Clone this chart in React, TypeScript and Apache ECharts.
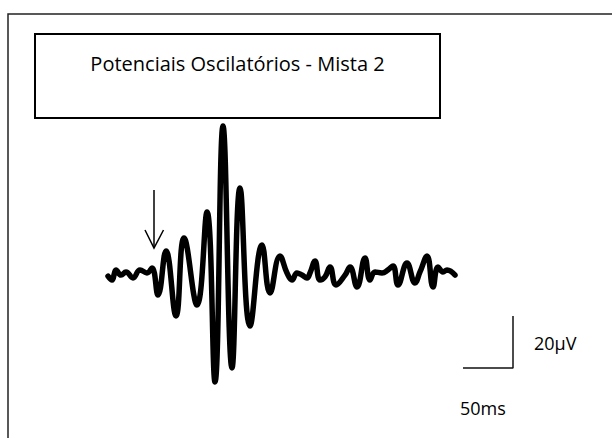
import React, { useEffect, useRef } from "react";
import * as echarts from "echarts";

// time (ms) from the start of the trace
const timeMs = [0, 4, 8, 13, 18, 25, 32, 39, 44, 50, 58, 68, 76, 89, 99, 107, 115, 124, 132, 142, 154, 162, 172, 179, 184, 189, 194, 199, 202, 207, 212, 217, 222, 228, 237, 242, 249, 257, 262, 267, 274, 280, 285, 290, 299, 307, 312, 319, 325, 330, 335, 339, 347];
// amplitude (µV)
const ampUV = [-1.2, -2.7, 1.2, -0.8, 0.4, -1.9, 1.2, 0, 1.9, -8.5, 8.5, -16.5, 13.5, -12.3, 23.5, -41.9, 56.5, -36.5, 32.7, -20.4, 10.8, -7.7, 6.5, 0, -2.7, 0, -0.8, -1.9, 0, 4.6, -2.7, -1.5, 2.3, -4.6, -0.8, 2.3, -5.4, 5.8, -2.7, 0.4, 0, 1.2, 2.7, -4.6, 3.8, -3.8, 0.4, 6.5, -5.4, 2.3, 0.4, 1.2, -0.8];

// calibration bar: 50 ms x 20 µV
const scaleBarTime = [355, 405, 405];
const scaleBarAmp = [-36.5, -36.5, -16.5];

const titleText = "Potenciais Oscilatórios - Mista 2";
const ampLabel = "20µV";
const timeLabel = "50ms";

export default function App() {
  const ref = useRef<HTMLDivElement>(null);
  useEffect(() => {
    if (!ref.current) return;
    const chart = echarts.init(ref.current, null, { renderer: "svg" });
    const font = "'Open Sans', 'Noto Sans', sans-serif";
    chart.setOption({
      animation: false,
      backgroundColor: "#ffffff",
      grid: { left: 108, top: 117, width: 420, height: 286 },
      xAxis: { type: "value", min: 0, max: 420, show: false },
      yAxis: { type: "value", min: -50, max: 60, show: false },
      series: [
        {
          type: "line",
          data: timeMs.map((t, i) => [t, ampUV[i]]),
          symbol: "none",
          smooth: 0.45,
          lineStyle: { color: "#000", width: 5.5, join: "round", cap: "round" },
          silent: true,
        },
        {
          type: "line",
          data: scaleBarTime.map((t, i) => [t, scaleBarAmp[i]]),
          symbol: "none",
          lineStyle: { color: "#111", width: 1.5 },
          silent: true,
        },
      ],
      graphic: [
        {
          type: "rect",
          shape: { x: 8, y: 14, width: 640, height: 460 },
          style: { fill: "none", stroke: "#222", lineWidth: 1.5 },
        },
        {
          type: "rect",
          shape: { x: 35, y: 34, width: 405, height: 84 },
          style: { fill: "#fff", stroke: "#000", lineWidth: 2 },
        },
        {
          type: "text",
          x: 237.5,
          y: 63,
          style: { text: titleText, font: `20px ${font}`, fill: "#000", align: "center", verticalAlign: "middle" },
        },
        {
          type: "line",
          shape: { x1: 154, y1: 190, x2: 154, y2: 247 },
          style: { stroke: "#000", lineWidth: 1.5 },
        },
        {
          type: "polyline",
          shape: { points: [[145, 230], [154, 248], [163.5, 230]] },
          style: { stroke: "#000", lineWidth: 1.5, fill: "none" },
        },
        {
          type: "text",
          x: 534,
          y: 343,
          style: { text: ampLabel, font: `18px ${font}`, fill: "#000", align: "left", verticalAlign: "middle" },
        },
        {
          type: "text",
          x: 460,
          y: 408,
          style: { text: timeLabel, font: `18px ${font}`, fill: "#000", align: "left", verticalAlign: "middle" },
        },
      ],
    });
    return () => chart.dispose();
  }, []);
  return <div ref={ref} style={{ position: "absolute", left: 0, top: 0, width: 612, height: 438 }} />;
}
